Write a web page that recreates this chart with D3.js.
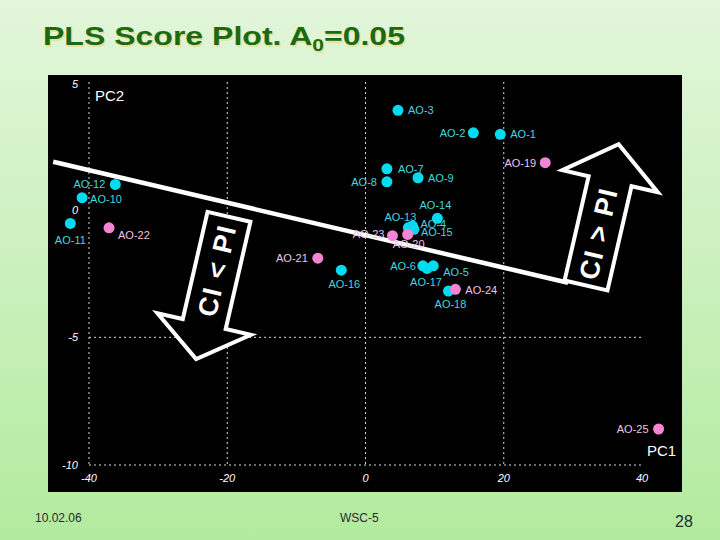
<!DOCTYPE html>
<html><head><meta charset="utf-8">
<script src="https://cdn.jsdelivr.net/npm/d3@7"></script>
<style>
html,body{margin:0;padding:0;}
body{width:720px;height:540px;overflow:hidden;}
svg{display:block;font-family:Arial,"Liberation Sans",sans-serif;}
</style></head>
<body>
<svg id="chart" width="720" height="540"></svg>
<script>
// ---- data ----
const names = ["AO-1","AO-2","AO-3","AO-4","AO-5","AO-6","AO-7","AO-8","AO-9","AO-10","AO-11","AO-12","AO-13","AO-14","AO-15","AO-16","AO-17","AO-18","AO-19","AO-20","AO-21","AO-22","AO-23","AO-24","AO-25"];
const pc1 = [19.5, 15.6, 4.7, 6.8, 9.8, 8.3, 3.1, 3.1, 7.6, -41.0, -42.7, -36.2, 6.2, 10.4, 7.0, -3.5, 8.9, 12.0, 26.0, 6.1, -6.9, -37.1, 3.9, 13.0, 42.4];
const pc2 = [2.95, 3.01, 3.89, -0.64, -2.2, -2.2, 1.60, 1.09, 1.25, 0.47, -0.54, 0.99, -0.70, -0.34, -0.77, -2.37, -2.3, -3.19, 1.84, -0.97, -1.90, -0.71, -1.02, -3.12, -8.59];
const group = ["CI<PI","CI<PI","CI<PI","CI<PI","CI<PI","CI<PI","CI<PI","CI<PI","CI<PI","CI<PI","CI<PI","CI<PI","CI<PI","CI<PI","CI<PI","CI<PI","CI<PI","CI<PI","CI>PI","CI>PI","CI>PI","CI>PI","CI>PI","CI>PI","CI>PI"];
const xTicks = [-40, -20, 0, 20, 40];
const yTicks = [5, 0, -5, -10];
const xGrid = [-40, -20, 0, 20];
const yGrid = [-5, -10];
const boundary = [[-45.18, 1.876], [29.3, -2.862]];
const titleMain = "PLS Score Plot. A";
const titleSub = "0";
const titleTail = "=0.05";
const footer = {date: "10.02.06", event: "WSC-5", page: "28"};

// label placement (styling, not data): [dx, dy, anchor]
const labelPlace = {
  "AO-1":[10,0,"start"],"AO-2":[-8,0,"end"],"AO-3":[10,0,"start"],"AO-4":[8,-2,"start"],
  "AO-5":[10,6,"start"],"AO-6":[-7,0,"end"],"AO-7":[11,0,"start"],"AO-8":[-10,0,"end"],
  "AO-9":[10,0,"start"],"AO-10":[8,1,"start"],"AO-11":[0,17,"middle"],"AO-12":[-10,0,"end"],
  "AO-13":[-8,-11,"middle"],"AO-14":[-2,-13,"middle"],"AO-15":[7,3,"start"],"AO-16":[3,14,"middle"],
  "AO-17":[-1,14,"middle"],"AO-18":[2,13,"middle"],"AO-19":[-9,0,"end"],"AO-20":[1,10,"middle"],
  "AO-21":[-10,0,"end"],"AO-22":[9,7,"start"],"AO-23":[-8,-2,"end"],"AO-24":[10,1,"start"],
  "AO-25":[-10,0,"end"]
};

const svg = d3.select("#chart");
const defs = svg.append("defs");
const bg = defs.append("linearGradient").attr("id","bg").attr("x1",0).attr("y1",0).attr("x2",0).attr("y2",1);
bg.append("stop").attr("offset","0%").attr("stop-color","#e2f6da");
bg.append("stop").attr("offset","45%").attr("stop-color","#cdf1c0");
bg.append("stop").attr("offset","100%").attr("stop-color","#b2eb9e");
svg.append("rect").attr("width",720).attr("height",540).attr("fill","url(#bg)");

// panel
svg.append("rect").attr("x",48).attr("y",75).attr("width",634).attr("height",417).attr("fill","#000");

const x = d3.scaleLinear().domain([-40,40]).range([89,642]);
const y = d3.scaleLinear().domain([-10,5]).range([465,82]);

// grid
const g = svg.append("g");
g.selectAll("line.vg").data(xGrid).join("line").attr("class","vg")
  .attr("x1",d=>x(d)).attr("x2",d=>x(d)).attr("y1",y(5)).attr("y2",y(-10))
  .attr("stroke","#d8d8d8").attr("stroke-width",1).attr("stroke-dasharray","2,3");
g.selectAll("line.hg").data(yGrid).join("line").attr("class","hg")
  .attr("x1",x(-40)).attr("x2",x(40)).attr("y1",d=>y(d)).attr("y2",d=>y(d))
  .attr("stroke","#d8d8d8").attr("stroke-width",1).attr("stroke-dasharray","2,3");

// tick labels
g.selectAll("text.xt").data(xTicks).join("text").attr("class","xt")
  .attr("x",d=>x(d)).attr("y",y(-10)+17).attr("text-anchor","middle")
  .attr("font-size",11).attr("font-style","italic").attr("fill","#fff").text(d=>d);
g.selectAll("text.yt").data(yTicks).join("text").attr("class","yt")
  .attr("x",x(-40)-11).attr("y",d=>y(d)+(d===5?6:4)).attr("text-anchor","end")
  .attr("font-size",11).attr("font-style","italic").attr("fill","#fff").text(d=>d);

svg.append("text").attr("x",95).attr("y",101).attr("font-size",15).attr("fill","#fff").text("PC2");
svg.append("text").attr("x",647).attr("y",456).attr("font-size",15).attr("fill","#fff").text("PC1");

// boundary line
svg.append("line")
  .attr("x1",x(boundary[0][0])).attr("y1",y(boundary[0][1]))
  .attr("x2",x(boundary[1][0])).attr("y2",y(boundary[1][1]))
  .attr("stroke","#fff").attr("stroke-width",4.5);

// points
const pts = names.map((n,i)=>({name:n, px:pc1[i], py:pc2[i], grp:group[i]}));
const ptColor = d => d.grp==="CI<PI" ? "#00dcef" : "#f484d4";
const lbColor = d => d.grp==="CI<PI" ? "#46d6de" : "#f2c4e4";
svg.append("g").selectAll("circle").data(pts).join("circle")
  .attr("cx",d=>x(d.px)).attr("cy",d=>y(d.py)).attr("r",5.5).attr("fill",ptColor);
svg.append("g").selectAll("text").data(pts).join("text")
  .attr("x",d=>x(d.px)+labelPlace[d.name][0])
  .attr("y",d=>y(d.py)+labelPlace[d.name][1]+4)
  .attr("text-anchor",d=>labelPlace[d.name][2])
  .attr("font-size",11).attr("fill",lbColor).text(d=>d.name);

// arrows
function arrow(cx, cy, dir, shaftLen, headLen, halfW, headHalf, label){
  const s = dir; // 1 = down, -1 = up
  const p = [[-halfW,0],[halfW,0],[halfW,s*shaftLen],[headHalf,s*shaftLen],[0,s*(shaftLen+headLen)],[-headHalf,s*shaftLen],[-halfW,s*shaftLen]];
  const a = svg.append("g").attr("transform",`translate(${cx},${cy}) rotate(13)`);
  a.append("polygon").attr("points",p.map(q=>q.join(",")).join(" "))
    .attr("fill","#000").attr("stroke","#fff").attr("stroke-width",4).attr("stroke-linejoin","miter");
  a.append("text").attr("transform",`translate(0,${s*shaftLen/2}) rotate(-90)`)
    .attr("text-anchor","middle").attr("dy","0.36em")
    .attr("font-size",27).attr("font-weight","bold").attr("letter-spacing",1.5)
    .attr("fill","#fff").text(label);
}
arrow(x(-19.75), y(-0.28), 1, 110, 36, 22, 48, "CI < PI");
arrow(x(31.9), y(-2.97), -1, 107, 38, 22, 49, "CI > PI");

// title
function title(dx, dy, color){
  const t = svg.append("text").attr("x",43+dx).attr("y",45+dy)
    .attr("font-size",26).attr("font-weight","bold").attr("fill",color)
    .attr("textLength",362).attr("lengthAdjust","spacingAndGlyphs");
  t.append("tspan").text(titleMain);
  t.append("tspan").attr("font-size",17).attr("dy",6).text(titleSub);
  t.append("tspan").attr("dy",-6).text(titleTail);
}
title(1.5, 1.5, "#e6e2a4");
title(0, 0, "#1b6a12");

// footer
svg.append("text").attr("x",35).attr("y",522).attr("font-size",12).attr("fill","#2a2a2a").text(footer.date);
svg.append("text").attr("x",340).attr("y",522).attr("font-size",12).attr("fill","#2a2a2a").text(footer.event);
svg.append("text").attr("x",675).attr("y",527).attr("font-size",16).attr("fill","#2a2a2a").text(footer.page);
</script>
</body></html>
